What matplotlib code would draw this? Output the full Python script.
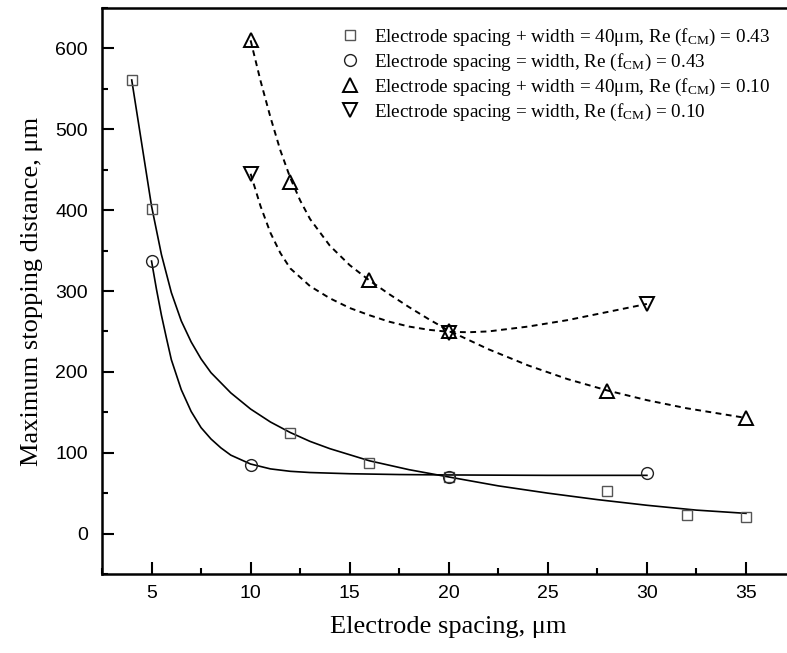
import numpy as np
import matplotlib.pyplot as plt
from matplotlib.ticker import MultipleLocator

plt.rcParams['mathtext.fontset'] = 'custom'
plt.rcParams['mathtext.rm'] = 'Liberation Serif'
plt.rcParams['mathtext.it'] = 'Liberation Serif:italic'

# measured points
sq_x = [4, 5, 12, 16, 20, 28, 32, 35]
sq_y = [561, 401, 125, 87, 70, 53, 23, 21]
ci_x = [5, 10, 20, 30]
ci_y = [337, 85, 70, 75]
tu_x = [10, 12, 16, 20, 28, 35]
tu_y = [610, 435, 314, 250, 176, 143]
td_x = [10, 20, 30]
td_y = [445, 248, 284]

# fitted curves
sq_cx = [4, 4.5, 5, 5.5, 6, 6.5, 7, 7.5, 8, 9, 10, 11, 12, 13, 14, 16, 18, 20, 22.5, 25, 27.5, 30, 32.5, 35]
sq_cy = [561, 483, 405, 345, 298, 263, 237, 216, 199, 174, 154, 138, 125, 114, 105, 90, 79, 70, 59, 50, 42, 35, 29, 25]
ci_cx = [5, 5.25, 5.5, 5.75, 6, 6.5, 7, 7.5, 8, 8.5, 9, 10, 11, 12, 13, 15, 17.5, 20, 25, 30]
ci_cy = [337, 302, 270, 242, 215, 178, 151, 131, 117, 106, 97, 86, 80, 77, 75.5, 74, 73, 72.5, 72, 72]
tu_cx = [10, 10.5, 11, 11.5, 12, 12.5, 13, 14, 15, 16, 17, 18, 19, 20, 22, 24, 26, 28, 30, 32, 35]
tu_cy = [610, 560, 515, 474, 440, 412, 389, 356, 332, 313, 296, 280, 265, 251, 228, 208, 191, 177, 165, 155, 143]
td_cx = [10, 10.5, 11, 11.5, 12, 13, 14, 15, 16, 17, 18, 19, 20, 21, 22, 24, 26, 28, 30]
td_cy = [445, 405, 372, 347, 328, 306, 291, 279, 270, 262, 256, 252, 249.5, 249, 250, 256, 264, 274, 284]

labels = [r'Electrode spacing + width = 40$\mathrm{\mu}$m, Re (f$_{\mathrm{CM}}$) = 0.43',
          r'Electrode spacing = width, Re (f$_{\mathrm{CM}}$) = 0.43',
          r'Electrode spacing + width = 40$\mathrm{\mu}$m, Re (f$_{\mathrm{CM}}$) = 0.10',
          r'Electrode spacing = width, Re (f$_{\mathrm{CM}}$) = 0.10']

fig = plt.figure(figsize=(7.87, 6.53), dpi=100)
ax = fig.add_axes([102/787, 79/653, 693.5/787, 566/653])

ax.plot(sq_cx, sq_cy, color='black', lw=1.2)
ax.plot(ci_cx, ci_cy, color='black', lw=1.2)
ax.plot(tu_cx, tu_cy, color='black', lw=1.4, ls=(0, (3, 2.3)))
ax.plot(td_cx, td_cy, color='black', lw=1.4, ls=(0, (3, 2.3)))

h1, = ax.plot(sq_x, sq_y, ls='none', marker='s', ms=7.5, mfc='none', mec='#555555', mew=1.0)
h2, = ax.plot(ci_x, ci_y, ls='none', marker='o', ms=8.5, mfc='none', mec='#222222', mew=1.0)
h3, = ax.plot(tu_x, tu_y, ls='none', marker='^', ms=10, mfc='none', mec='black', mew=1.4)
h4, = ax.plot(td_x, td_y, ls='none', marker='v', ms=10, mfc='none', mec='black', mew=1.4)

ax.set_xlim(2.5, 37.5)
ax.set_ylim(-50, 650)
ax.xaxis.set_major_locator(MultipleLocator(5))
ax.xaxis.set_minor_locator(MultipleLocator(2.5))
ax.yaxis.set_major_locator(MultipleLocator(100))
ax.yaxis.set_minor_locator(MultipleLocator(50))
ax.tick_params(which='both', direction='in', top=False, right=False, width=1.5)
ax.tick_params(which='major', length=8.5)
ax.tick_params(which='minor', length=4.3)
ax.tick_params(axis='y', pad=10)
ax.tick_params(axis='x', pad=8)
for sp in ax.spines.values():
    sp.set_linewidth(1.8)
for t in ax.get_xticklabels() + ax.get_yticklabels():
    t.set_fontfamily('Liberation Sans')
    t.set_fontsize(14)

ax.set_xlabel('Electrode spacing, μm', family='Liberation Serif', fontsize=19, labelpad=10)
ax.set_ylabel('Maximum stopping distance, μm', family='Liberation Serif', fontsize=19, labelpad=9)

fig.legend([h1, h2, h3, h4], labels, loc='upper left', bbox_to_anchor=(340/787, 1 - 27/653),
           frameon=False, borderpad=0, borderaxespad=0, handlelength=1.0, handletextpad=0.8,
           labelspacing=0.2, prop={'family': 'Liberation Serif', 'size': 13.75})

fig.savefig('out.png', dpi=100)
